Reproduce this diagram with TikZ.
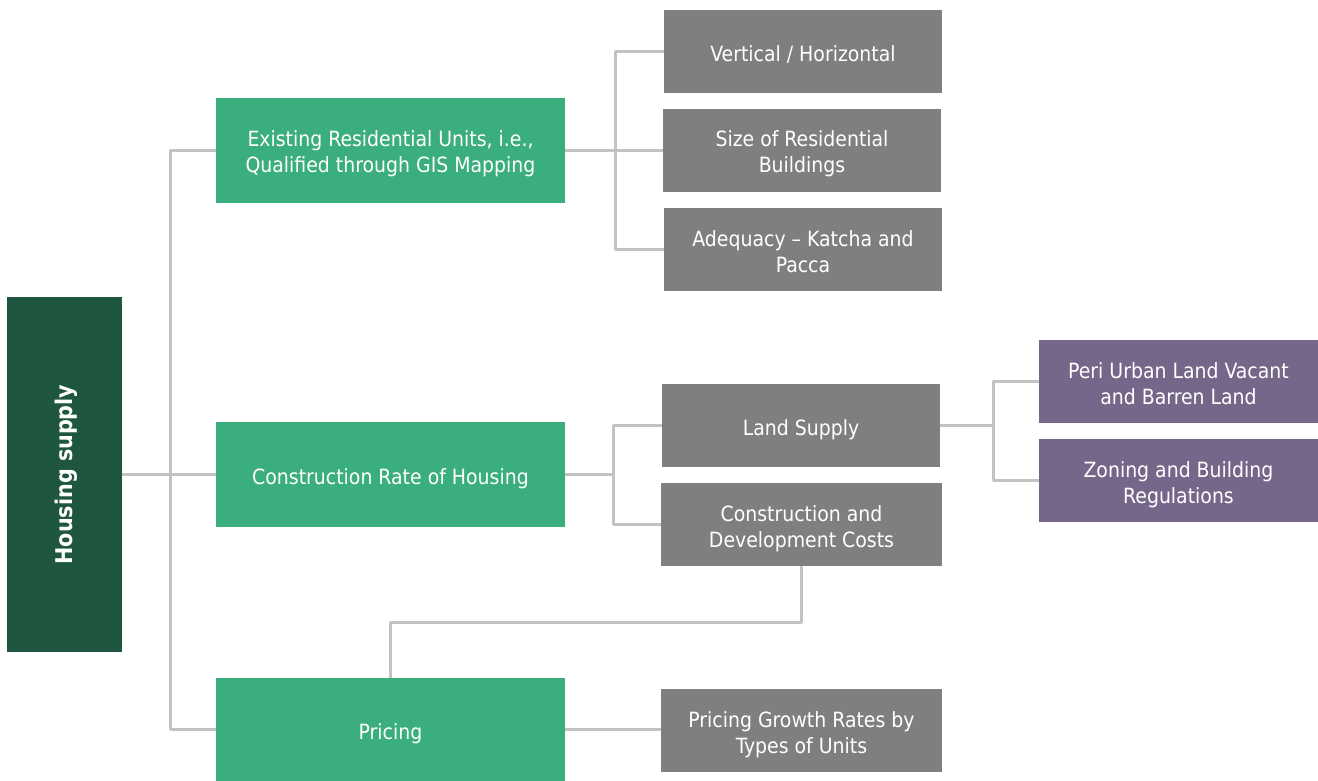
\documentclass[tikz,border=0pt]{standalone}
\usepackage{fontspec}
\setmainfont{DejaVu Sans Condensed}
\begin{document}
\begin{tikzpicture}[x=1pt,y=-1pt,
  box/.style={rectangle, inner sep=0pt, text=white, align=center,
    font=\fontsize{21}{26}\selectfont, text height=26pt, text depth=6pt},
  twolines/.style={text height=51pt},
  rootbox/.style={box, fill=rootgreen, minimum width=115pt, minimum height=355pt},
  levelone/.style={box, fill=midgreen, minimum width=349pt, minimum height=105pt},
  leveltwo/.style={box, fill=boxgray, minimum width=278pt, minimum height=83pt},
  levelthree/.style={box, fill=boxpurple, minimum width=279pt, minimum height=83pt},
  link/.style={draw=linkgray, line width=3pt, line join=round}]
\definecolor{rootgreen}{HTML}{1F5640}
\definecolor{midgreen}{HTML}{3AAE7C}
\definecolor{boxgray}{HTML}{7F7F7F}
\definecolor{boxpurple}{HTML}{766689}
\definecolor{linkgray}{HTML}{C3C3C3}
\useasboundingbox (0,0) rectangle (1318,781);

% root
\node[rootbox] (hs) at (64.5,474.5) {};
\node[rotate=90, text=white, font=\fontsize{23}{26}\selectfont\bfseries] (hslabel) at ([xshift=2]hs.center) {Housing supply};

% first level
\node[levelone, twolines] (g1) at (390.5,150.5) {Existing Residential Units, i.e.,\\Qualified through GIS Mapping};
\node[levelone] (g2) at (390.5,474.5) {Construction Rate of Housing};
\node[levelone, minimum height=103pt] (g3) at (390.5,729.5) {Pricing};

% second level
\node[leveltwo] (a1) at (803,51.5) {Vertical / Horizontal};
\node[leveltwo, twolines] (a2) at (802,150.5) {Size of Residential\\Buildings};
\node[leveltwo, twolines] (a3) at (803,249.5) {Adequacy -- Katcha and\\Pacca};
\node[leveltwo] (b1) at (801,425.5) {Land Supply};
\node[leveltwo, twolines, minimum width=281pt] (b2) at (801.5,524.5) {Construction and\\Development Costs};
\node[leveltwo, twolines, minimum width=281pt] (c1) at (801.5,730.5) {Pricing Growth Rates by\\Types of Units};

% third level
\node[levelthree, twolines] (p1) at (1178.5,381.5) {Peri Urban Land Vacant\\and Barren Land};
\node[levelthree, twolines] (p2) at (1178.5,480.5) {Zoning and Building\\Regulations};

% bus points
\coordinate (busroot) at (170,474.5);
\coordinate (busexist) at (615,150.5);
\coordinate (busconst) at (613,474.5);
\coordinate (busland) at (993,425.5);

% connectors
\draw[link] (hs.east) -- (busroot);
\draw[link] (busroot) |- (g1.west);
\draw[link] (busroot) -- (g2.west);
\draw[link] (busroot) |- (g3.west);

\draw[link] (g1.east) -- (busexist);
\draw[link] (busexist) |- (a1.west);
\draw[link] (busexist) -- (a2.west);
\draw[link] (busexist) |- (a3.west);

\draw[link] (g2.east) -- (busconst);
\draw[link] (busconst) |- (b1.west);
\draw[link] (busconst) |- (b2.west);

\draw[link] (b1.east) -- (busland);
\draw[link] (busland) |- (p1.west);
\draw[link] (busland) |- (p2.west);

\draw[link] (b2.south) -- ++(0,56) -| (g3.north);
\draw[link] (g3.east) -- (g3.east -| c1.west);
\end{tikzpicture}
\end{document}
